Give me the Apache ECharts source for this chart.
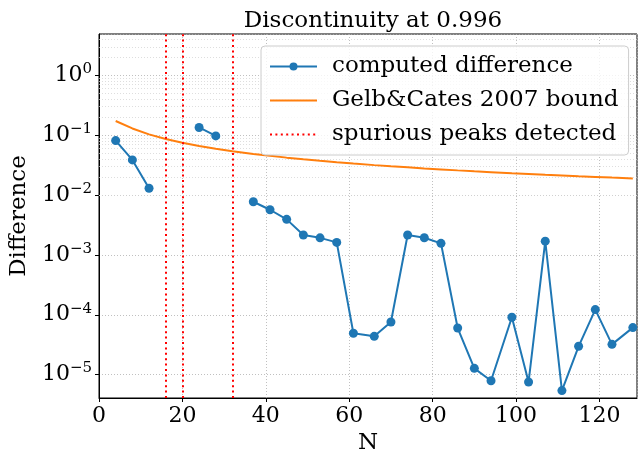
<!DOCTYPE html>
<html>
<head>
<meta charset="utf-8">
<script src="https://cdn.jsdelivr.net/npm/echarts@6/dist/echarts.min.js"></script>
<style>
html,body{margin:0;padding:0;background:#fff}
#chart{width:639px;height:450px}
</style>
</head>
<body>
<div id="chart"></div>
<script>
// data
const N = [4,8,12,16,20,24,28,32,37,41,45,49,53,57,61,66,70,74,78,82,86,90,94,99,103,107,111,115,119,123,128];
const computedDiff = [0.0815,0.0387,0.0130,null,null,0.135,0.0977,null,0.00775,0.00569,0.00393,0.00215,0.00193,0.00162,
  4.9e-5,4.36e-5,7.57e-5,0.00215,0.00194,0.00156,6.0e-5,1.27e-5,7.9e-6,9.1e-5,7.5e-6,0.0017,5.4e-6,2.97e-5,1.22e-4,3.2e-5,6.1e-5];
const boundValues = [0.1733,0.1300,0.1035,0.0866,0.0749,0.0662,0.0595,0.0542,0.0488,0.0453,0.0423,0.0397,0.0375,0.0355,
  0.0337,0.0317,0.0303,0.0291,0.0279,0.0269,0.0259,0.0250,0.0242,0.0232,0.0225,0.0218,0.0212,0.0206,0.0201,0.0196,0.0190];
const spuriousPeaks = [16,20,32];
const minorMult = [2,3,4,5,6,7,8,9];
const decades = [1e-6,1e-5,1e-4,1e-3,1e-2,1e-1,1];

const yMin = 4.06e-6, yMax = 4.93;
const font = "'DejaVu Serif', serif";

let chart = echarts.init(document.getElementById('chart'));

// minor grid lines (matplotlib which='both')
let minorLines = [];
decades.forEach(d => minorMult.forEach(m => {
  let v = d * m;
  if (v > yMin && v < yMax) minorLines.push({yAxis: v});
}));

chart.setOption({
  animation: false,
  tooltip: {show: false},
  title: {
    text: 'Discontinuity at 0.996',
    left: 368, top: 5, textAlign: 'center',
    textStyle: {fontFamily: font, fontSize: 23, fontWeight: 'normal', color: '#000'}
  },
  legend: {
    orient: 'vertical',
    left: 261, top: 46,
    padding: [9, 10, 9, 8],
    itemWidth: 47, itemHeight: 10, itemGap: 11,
    backgroundColor: 'rgba(255,255,255,0.8)',
    borderColor: '#cccccc', borderWidth: 1, borderRadius: 4,
    textStyle: {fontFamily: font, fontSize: 23, lineHeight: 23, color: '#000', padding: [0, 0, 0, 10]},
    data: [
      {name: 'computed difference'},
      {name: 'Gelb&Cates 2007 bound', itemStyle: {color: 'transparent', borderWidth: 0}},
      {name: 'spurious peaks detected', itemStyle: {color: 'transparent', borderWidth: 0}}
    ]
  },
  grid: {
    left: 99, right: 2, top: 34, bottom: 52,
    show: true, borderColor: '#000', borderWidth: 1,
    outerBoundsMode: 'none'
  },
  xAxis: {
    type: 'value', min: 0, max: 129, interval: 20,
    name: 'N', nameLocation: 'middle', nameGap: 32,
    nameTextStyle: {fontFamily: font, fontSize: 23, color: '#000'},
    axisLine: {show: true, lineStyle: {color: '#000', width: 1}},
    axisTick: {show: true, length: 4, lineStyle: {color: '#000'}},
    axisLabel: {fontFamily: font, fontSize: 22, color: '#000', margin: 7, showMaxLabel: false},
    splitLine: {show: true, lineStyle: {color: '#b0b0b0', type: [1, 2], width: 0.8}}
  },
  yAxis: {
    type: 'log', logBase: 10, min: yMin, max: yMax,
    name: 'Difference', nameLocation: 'middle', nameGap: 66,
    nameTextStyle: {fontFamily: font, fontSize: 23, color: '#000'},
    axisLine: {show: true, lineStyle: {color: '#000', width: 1}},
    axisTick: {show: true, length: 4, lineStyle: {color: '#000'}},
    axisLabel: {
      margin: 7, showMinLabel: false, showMaxLabel: false,
      formatter: function (v) {
        let p = Math.log10(v), n = Math.round(p);
        if (Math.abs(p - n) > 1e-6) return '';
        return '{b|10}{s|' + (n < 0 ? '\u2212' + (-n) : n) + '}';
      },
      rich: {
        b: {fontFamily: font, fontSize: 22, color: '#000'},
        s: {fontFamily: font, fontSize: 15, color: '#000', padding: [0, 0, 12, 0]}
      }
    },
    splitLine: {show: true, lineStyle: {color: '#b0b0b0', type: [1, 2], width: 0.8}}
  },
  series: [
    {
      name: 'minor grid', type: 'line', data: [], silent: true, z: 1,
      markLine: {
        silent: true, symbol: 'none', label: {show: false}, z: 1,
        lineStyle: {color: '#d0d0d0', type: [1, 2], width: 0.7},
        data: minorLines
      }
    },
    {
      name: 'computed difference', type: 'line',
      data: N.map((n, i) => [n, computedDiff[i]]),
      connectNulls: false, silent: true,
      symbol: 'circle', symbolSize: 9, showSymbol: true, showAllSymbol: true,
      itemStyle: {color: '#1f77b4', borderWidth: 0},
      lineStyle: {color: '#1f77b4', width: 2},
      emphasis: {disabled: true},
      z: 8
    },
    {
      name: 'Gelb&Cates 2007 bound', type: 'line',
      data: N.map((n, i) => [n, boundValues[i]]),
      symbol: 'none', smooth: false, silent: true,
      itemStyle: {color: '#ff7f0e'},
      lineStyle: {color: '#ff7f0e', width: 2},
      z: 3
    },
    {
      name: 'spurious peaks detected', type: 'line', data: [],
      symbol: 'none',
      itemStyle: {color: '#ff0000'},
      lineStyle: {color: '#ff0000', width: 2, type: [2, 3.4]},
      markLine: {
        silent: true, symbol: 'none', label: {show: false}, z: 4,
        lineStyle: {color: '#ff0000', width: 2, type: [2, 3.4]},
        data: spuriousPeaks.map(x => ({xAxis: x}))
      },
      z: 4
    }
  ]
});
</script>
</body>
</html>
